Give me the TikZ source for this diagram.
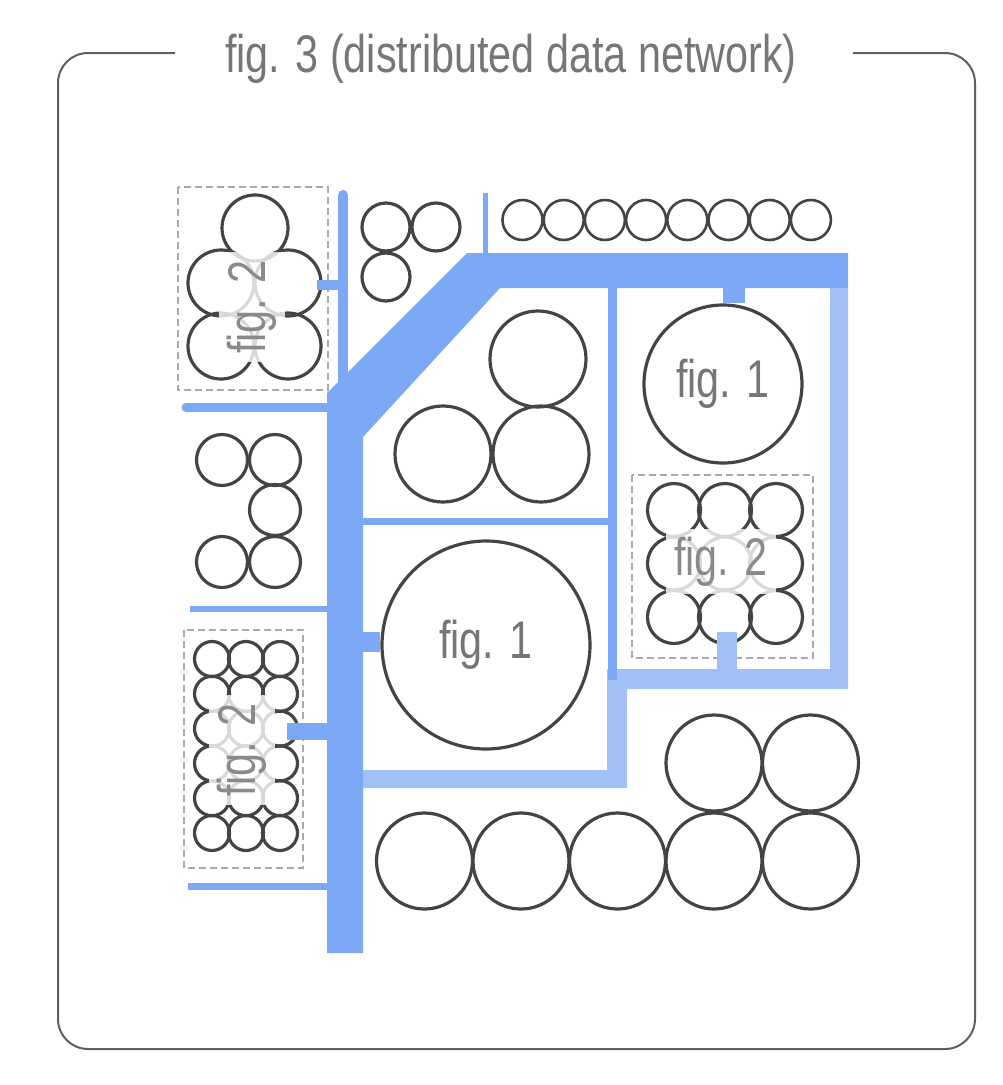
\documentclass[tikz,border=0pt]{standalone}
\usepackage{fontspec}
\setmainfont{Liberation Sans}

\definecolor{netblue}{RGB}{124,168,245}
\definecolor{paleblue}{RGB}{160,192,246}
\definecolor{ringgray}{RGB}{68,68,68}
\definecolor{framegray}{RGB}{95,95,95}
\definecolor{boxgray}{RGB}{170,170,170}
\definecolor{labelgray}{RGB}{118,118,118}
\definecolor{softgray}{RGB}{138,138,138}

% condensed sans text and the label size
\newcommand\narrowtext[1]{\scalebox{0.78}[1]{#1}}
\newcommand\figfont{\fontsize{53}{60}\selectfont}

\tikzset{
  ring/.style={draw=ringgray, line width=3.2},
  smallring/.style={draw=ringgray, line width=2.6},
  hub/.style={circle, draw=ringgray, line width=3.2, inner sep=0pt,
              minimum size=#1, font=\figfont, text=labelgray},
  groupbox/.style={draw=boxgray, line width=1.2, dash pattern=on 7pt off 4pt},
  wire/.style={draw=netblue, line width=#1},
  palewire/.style={draw=paleblue, line width=#1},
  tag/.style={font=\figfont, text=softgray, fill=white, fill opacity=0.8,
              text opacity=1, inner sep=8pt},
}

\begin{document}
\begin{tikzpicture}[x=1pt,y=-1pt]
\useasboundingbox (0,0) rectangle (1002,1085);

% outer frame with the title set into its top edge
\draw[framegray, line width=2, rounded corners=30]
  (175,53) -- (58,53) -- (58,1049) -- (975,1049) -- (975,53) -- (853,53);
\node[font=\figfont, text=labelgray, anchor=base] (title) at (511,72)
  {\narrowtext{fig. 3 (distributed data network)}};

% main backbone: trunk, diagonal and top band
\fill[netblue] (327,953) -- (327,393) -- (467,253) -- (848,253) -- (848,288)
  -- (500,288) -- (363,437) -- (363,953) -- cycle;
% secondary loop on the right and bottom
\fill[paleblue] (830,288) -- (848,288) -- (848,689) -- (627,689) -- (627,788)
  -- (363,788) -- (363,770) -- (607,770) -- (607,669) -- (830,669) -- cycle;

% hubs
\node[hub=208] (hubA) at (486,645) {\narrowtext{fig. 1}};
\node[hub=158] (hubB) at (723,384) {\narrowtext{fig. 1}};

% thin branch lines
\coordinate (riserTop) at (343,195);
\coordinate (riserFoot) at (343,400);
\draw[wire=10, line cap=round] (riserTop) -- (riserFoot);
\draw[wire=9, line cap=round] (186,407) -- (330,407);
\draw[wire=6] (190,609) -- (330,609);
\draw[wire=7] (188,886) -- (330,886);
\draw[wire=5] (485,193) -- (485,256);
\draw[wire=9] (612.5,286) -- (612.5,680);
\draw[wire=7] (360,521.5) -- (614,521.5);

% stubs from the backbone to the hubs
\coordinate (trunkA) at (361,642);
\coordinate (bandB) at (734,286);
\draw[wire=20] (trunkA) -- (trunkA -| hubA.west);
\draw[wire=22] (bandB) -- (bandB |- hubB.north);

% plain circle groups
\foreach \c in {(386,227),(436,227),(386,277)}
  \draw[ring] \c circle[radius=24];
\foreach \i in {0,...,7}
  \draw[smallring] ({522.5+41.2*\i},220) circle[radius=20];
\foreach \c in {(538,359),(443,454),(541,454)}
  \draw[ring] \c circle[radius=48];
\foreach \c in {(222,460),(275,460),(275,510),(222,562),(275,562)}
  \draw[ring] \c circle[radius=25.5];
\foreach \c in {(714,763),(810.5,763),(424.5,861),(521,861),(617.5,861),(714,861),(810.5,861)}
  \draw[ring] \c circle[radius=48];

% fig. 2 clusters
\draw[groupbox] (178,187) rectangle (328,390);
\foreach \c in {(255,228),(221,283),(288,283),(221,346),(288,346)}
  \draw[ring] \c circle[radius=33];

\draw[groupbox] (632,475) rectangle (813,658);
\foreach \x in {674,725,776}
  \foreach \y in {510,563.5,617}
    \draw[ring] (\x,\y) circle[radius=26.5];

\draw[groupbox] (184,630) rectangle (303,868);
\foreach \x in {212,246,280}
  \foreach \k in {0,...,5}
    \draw[ring] (\x,{659+34.8*\k}) circle[radius=17.5];

% stubs into the clusters
\draw[wire=10] (317,285) -- (340,285);
\draw[wire=17] (287,731) -- (329,731);
\draw[palewire=20] (727,632) -- (727,672);

% cluster labels
\node[tag, rotate=90] (tagA) at (252,307) {\narrowtext{fig. 2}};
\node[tag, anchor=base] (tagB) at (721,575) {\narrowtext{fig. 2}};
\node[tag, rotate=90] (tagC) at (242,750) {\narrowtext{fig. 2}};
\end{tikzpicture}
\end{document}
